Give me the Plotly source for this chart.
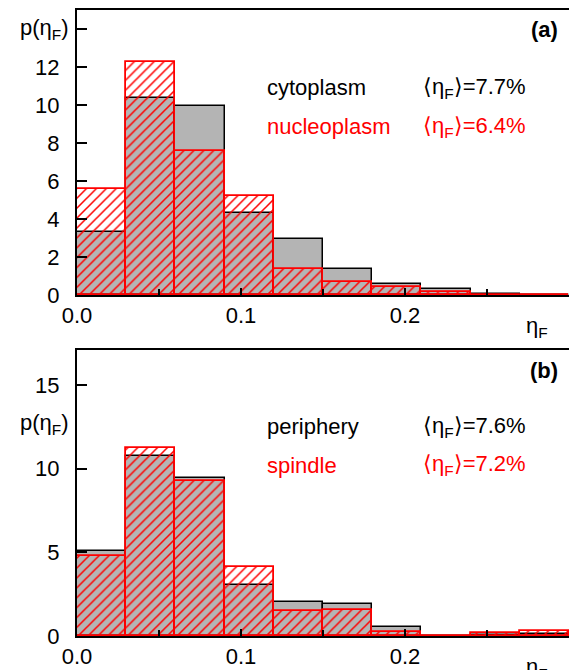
import plotly.graph_objects as go

# bin left edges of eta_F histogram (bin width 0.03)
bin_left = [0.00, 0.03, 0.06, 0.09, 0.12, 0.15, 0.18, 0.21, 0.24, 0.27]
bin_width = 0.03

# panel (a)
cytoplasm = [3.3, 10.35, 9.95, 4.3, 2.93, 1.35, 0.56, 0.33, 0.05, 0.02]
nucleoplasm = [5.6, 12.28, 7.58, 5.23, 1.35, 0.67, 0.4, 0.16, 0.0, 0.0]
# panel (b)
periphery = [5.07, 10.78, 9.46, 3.08, 2.04, 1.94, 0.54, 0.0, 0.05, 0.14]
spindle = [4.77, 11.26, 9.26, 4.13, 1.5, 1.54, 0.24, 0.0, 0.2, 0.28]

mean_a = ["7.7%", "6.4%"]
mean_b = ["7.6%", "7.2%"]

centers = [b + bin_width / 2 for b in bin_left]
GRAY = "#b4b4b4"
RED = "#ff0000"
FONT = "Liberation Sans, Arial, Helvetica, sans-serif"
FS = 22

fig = go.Figure()


def add_pair(gray_vals, red_vals, xa, ya):
    fig.add_trace(go.Bar(
        x=centers, y=gray_vals, width=bin_width, xaxis=xa, yaxis=ya,
        marker=dict(color=GRAY, line=dict(color="black", width=1.5)),
        showlegend=False, hoverinfo="skip"))
    fig.add_trace(go.Bar(
        x=centers, y=red_vals, width=bin_width, xaxis=xa, yaxis=ya,
        marker=dict(color="rgba(0,0,0,0)", line=dict(color=RED, width=1.8),
                    pattern=dict(shape="/", fgcolor=RED, bgcolor="rgba(0,0,0,0)",
                                 fillmode="replace", size=7, solidity=0.22)),
        showlegend=False, hoverinfo="skip"))


add_pair(cytoplasm, nucleoplasm, "x", "y")
add_pair(periphery, spindle, "x2", "y2")

xcommon = dict(
    range=[0, 0.3], tickvals=[0.0, 0.1, 0.2], ticktext=["0.0", "0.1", "0.2"],
    ticks="inside", ticklen=7, tickwidth=1.5, tickcolor="black",
    minor=dict(tickvals=[0.05, 0.15, 0.25], ticks="inside", ticklen=6,
               tickwidth=1.5, tickcolor="black"),
    showline=True, linecolor="black", linewidth=2, mirror=True,
    showgrid=False, zeroline=False, ticklabelstandoff=0,
    tickfont=dict(family=FONT, size=FS, color="black"))

ycommon = dict(
    ticks="inside", ticklen=10, tickwidth=1.5, tickcolor="black",
    showline=True, linecolor="black", linewidth=2, mirror=False,
    showgrid=False, zeroline=False, ticklabelstandoff=11,
    tickfont=dict(family=FONT, size=FS, color="black"))

fig.update_layout(
    width=569, height=670,
    margin=dict(l=77, r=0, t=10, b=34),
    paper_bgcolor="white", plot_bgcolor="white",
    barmode="overlay", bargap=0,
    xaxis=dict(**xcommon, anchor="y", domain=[0, 1]),
    yaxis=dict(**ycommon, anchor="x", domain=[0.5447, 1.0], range=[0, 15],
               tickvals=[0, 2, 4, 6, 8, 10, 12, 14],
               ticktext=["0", "2", "4", "6", "8", "10", "12", ""]),
    xaxis2=dict(**xcommon, anchor="y2", domain=[0, 1]),
    yaxis2=dict(**ycommon, anchor="x2", domain=[0, 0.4569], range=[0, 17.1],
                tickvals=[0, 5, 10, 15], ticktext=["0", "5", "10", "15"]),
)

fb = dict(family=FONT, size=FS, color="black")
fr = dict(family=FONT, size=FS, color=RED)
eta = "η<sub>F</sub>"
mean = "⟨η<sub>F</sub>⟩="

ann = [
    # panel a
    dict(text="p(" + eta + ")", xref="paper", yref="y", x=-0.012, y=14, xanchor="right", yanchor="middle", font=fb),
    dict(text="cytoplasm", xref="x", yref="y", x=0.1145, y=10.9, xanchor="left", yanchor="middle", font=fb),
    dict(text="nucleoplasm", xref="x", yref="y", x=0.1145, y=8.85, xanchor="left", yanchor="middle", font=fr),
    dict(text=mean + mean_a[0], xref="x", yref="y", x=0.2098, y=10.9, xanchor="left", yanchor="middle", font=fb),
    dict(text=mean + mean_a[1], xref="x", yref="y", x=0.2098, y=8.85, xanchor="left", yanchor="middle", font=fr),
    dict(text="<b>(a)</b>", xref="x", yref="y", x=0.2945, y=13.95, xanchor="right", yanchor="middle", font=fb),
    dict(text=eta, xref="x", yref="paper", x=0.2805, y=0.5447, xanchor="center", yanchor="top", yshift=-16, font=fb),
    # panel b
    dict(text="p(" + eta + ")", xref="paper", yref="y2", x=-0.012, y=12.7, xanchor="right", yanchor="middle", font=fb),
    dict(text="periphery", xref="x", yref="y2", x=0.1145, y=12.5, xanchor="left", yanchor="middle", font=fb),
    dict(text="spindle", xref="x", yref="y2", x=0.1145, y=10.2, xanchor="left", yanchor="middle", font=fr),
    dict(text=mean + mean_b[0], xref="x", yref="y2", x=0.2098, y=12.5, xanchor="left", yanchor="middle", font=fb),
    dict(text=mean + mean_b[1], xref="x", yref="y2", x=0.2098, y=10.2, xanchor="left", yanchor="middle", font=fr),
    dict(text="<b>(b)</b>", xref="x", yref="y2", x=0.2945, y=15.9, xanchor="right", yanchor="middle", font=fb),
    dict(text=eta, xref="x", yref="paper", x=0.2805, y=0.0, xanchor="center", yanchor="top", yshift=-16, font=fb),
]
for a in ann:
    a["showarrow"] = False
fig.update_layout(annotations=ann)

fig.write_html("out.html")
